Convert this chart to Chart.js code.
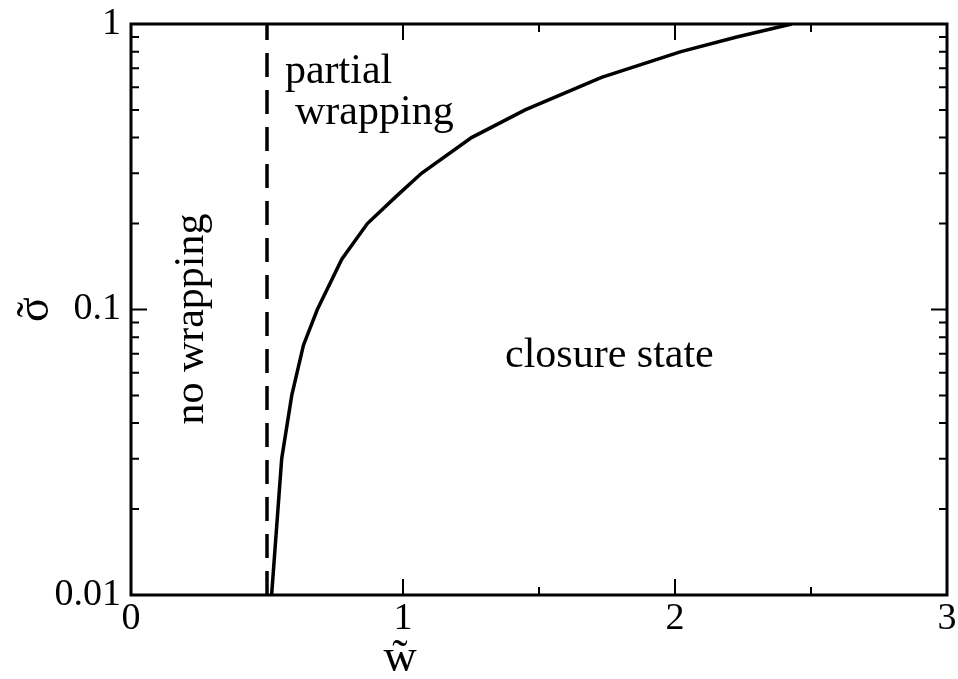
<!DOCTYPE html>
<html>
<head>
<meta charset="utf-8">
<script src="https://cdn.jsdelivr.net/npm/chart.js@4.4.1/dist/chart.umd.min.js"></script>
<style>
  html, body { margin: 0; padding: 0; background: #fff; }
  #wrap { width: 958px; height: 679px; }
</style>
</head>
<body>
<div id="wrap"><canvas id="phaseChart"></canvas></div>
<script>
// tick values and labels
var xTicks = [0, 1, 2, 3];
var xTickLabels = ['0', '1', '2', '3'];
var xMinorTicks = [0.5, 1.5, 2.5];
var yTicks = [0.01, 0.1, 1];
var yTickLabels = ['0.01', '0.1', '1'];
var yMinorTicks = [0.02, 0.03, 0.04, 0.05, 0.06, 0.07, 0.08, 0.09,
                   0.2, 0.3, 0.4, 0.5, 0.6, 0.7, 0.8, 0.9];

// closure boundary (solid)
var closureW = [0.517, 0.554, 0.591, 0.634, 0.685, 0.775, 0.869, 0.977, 1.068, 1.252, 1.449, 1.730, 2.022, 2.227, 2.429];
var closureSigma = [0.01, 0.03, 0.05, 0.075, 0.1, 0.15, 0.2, 0.25, 0.3, 0.4, 0.5, 0.65, 0.8, 0.9, 1.0];

// wrapping onset (dashed)
var onsetW = [0.5, 0.5];
var onsetSigma = [0.01, 1];

var SERIF = '"Liberation Serif", "Times New Roman", serif';

function toPoints(xs, ys) {
	var pts = [];
	for (var i = 0; i < xs.length; i++) pts.push({x: xs[i], y: ys[i]});
	return pts;
}

// frame, inward ticks on all four sides, region labels and axis titles
var decorPlugin = {
	id: 'decor',
	afterDatasetsDraw: function(chart) {
		var ctx = chart.ctx;
		var a = chart.chartArea;
		var xs = chart.scales.x, ys = chart.scales.y;
		ctx.save();
		ctx.strokeStyle = '#000';
		ctx.lineWidth = 2;
		ctx.beginPath();
		function xt(v, len) {
			var px = xs.getPixelForValue(v);
			ctx.moveTo(px, a.bottom); ctx.lineTo(px, a.bottom - len);
			ctx.moveTo(px, a.top); ctx.lineTo(px, a.top + len);
		}
		function yt(v, len) {
			var py = ys.getPixelForValue(v);
			ctx.moveTo(a.left, py); ctx.lineTo(a.left + len, py);
			ctx.moveTo(a.right, py); ctx.lineTo(a.right - len, py);
		}
		xTicks.forEach(function(v) { xt(v, 16); });
		xMinorTicks.forEach(function(v) { xt(v, 8); });
		yTicks.forEach(function(v) { yt(v, 16); });
		yMinorTicks.forEach(function(v) { yt(v, 8); });
		ctx.stroke();

		ctx.lineWidth = 3;
		ctx.strokeRect(a.left, a.top, a.right - a.left, a.bottom - a.top);

		// region labels
		ctx.fillStyle = '#000';
		ctx.textBaseline = 'alphabetic';
		ctx.font = '42px ' + SERIF;
		function label(text, wx, sy, rot, align) {
			ctx.save();
			ctx.translate(xs.getPixelForValue(wx), ys.getPixelForValue(sy));
			ctx.rotate(rot);
			ctx.textAlign = align;
			ctx.fillText(text, 0, 0);
			ctx.restore();
		}
		label('partial', 0.566, 0.62, 0, 'left');
		label('wrapping', 0.603, 0.447, 0, 'left');
		label('closure state', 1.375, 0.063, 0, 'left');
		label('no wrapping', 0.265, 0.0926, -Math.PI / 2, 'center');

		// axis titles: letter with a tilde on top
		ctx.font = '46px ' + SERIF;
		ctx.textAlign = 'center';
		ctx.save();
		ctx.translate(48, (a.top + a.bottom) / 2);
		ctx.rotate(-Math.PI / 2);
		ctx.fillText('\u03c3', 0, 0);
		ctx.fillText('\u02dc', 0, 0);
		ctx.restore();
		ctx.fillText('w', 400, 671);
		ctx.fillText('\u02dc', 400, 671);
		ctx.restore();
	}
};

new Chart(document.getElementById('phaseChart'), {
	type: 'scatter',
	data: {
		datasets: [{
			label: 'closure',
			data: toPoints(closureW, closureSigma),
			showLine: true,
			borderColor: '#000',
			borderWidth: 3.5,
			pointRadius: 0,
			tension: 0
		}, {
			label: 'onset',
			data: toPoints(onsetW, onsetSigma),
			showLine: true,
			borderColor: '#000',
			borderWidth: 3.5,
			borderDash: [24, 13],
			pointRadius: 0,
			tension: 0
		}]
	},
	options: {
		responsive: true,
		maintainAspectRatio: false,
		animation: false,
		events: [],
		layout: { padding: { top: 24, right: 11, left: 0, bottom: 0 } },
		plugins: {
			legend: { display: false },
			tooltip: { enabled: false }
		},
		scales: {
			x: {
				type: 'linear',
				min: 0,
				max: 3,
				border: { display: false },
				grid: { display: false },
				afterBuildTicks: function(scale) {
					scale.ticks = xTicks.map(function(v) { return {value: v}; });
				},
				afterFit: function(scale) {
					scale.height = 84;
					scale.paddingLeft = 0;
					scale.paddingRight = 0;
				},
				ticks: {
					color: '#000',
					padding: -7,
					maxRotation: 0,
					font: { family: SERIF, size: 38 },
					callback: function(v) { return xTickLabels[xTicks.indexOf(v)]; }
				}
			},
			y: {
				type: 'logarithmic',
				min: 0.01,
				max: 1,
				border: { display: false },
				grid: { display: false },
				afterBuildTicks: function(scale) {
					scale.ticks = yTicks.map(function(v) { return {value: v}; });
				},
				afterFit: function(scale) {
					scale.width = 131;
					scale.paddingTop = 0;
					scale.paddingBottom = 0;
				},
				ticks: {
					color: '#000',
					padding: 2,
					font: { family: SERIF, size: 38 },
					callback: function(v) { return yTickLabels[yTicks.indexOf(v)]; }
				}
			}
		}
	},
	plugins: [decorPlugin]
});
</script>
</body>
</html>
